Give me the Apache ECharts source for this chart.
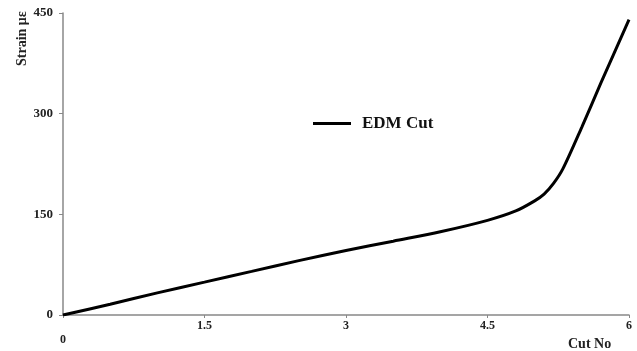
<!DOCTYPE html>
<html><head><meta charset="utf-8">
<script src="https://cdn.jsdelivr.net/npm/echarts@6/dist/echarts.min.js"></script>
<style>html,body{margin:0;padding:0;background:#fff}#c{width:637px;height:351px}</style>
</head><body><div id="c"></div>
<script>
var seriesName = 'EDM Cut';
var cutNo = [0, 0.5, 1, 1.5, 2, 2.5, 3, 3.5, 4, 4.5, 4.8, 5.0, 5.1, 5.2, 5.3, 5.5, 5.7, 6.0];
var strain = [0, 16, 33, 49, 65, 81, 96, 110, 124, 141, 155, 170, 180, 196, 218, 280, 345, 440];
var xTicks = [0, 1.5, 3, 4.5, 6];
var yTicks = [0, 150, 300, 450];

var font = 'Liberation Serif';
var chart = echarts.init(document.getElementById('c'), null, {renderer: 'canvas'});
chart.setOption({
  animation: false,
  backgroundColor: '#fff',
  grid: {left: 63, right: 8, top: 13, bottom: 36},
  legend: {
    data: [seriesName], left: 308, top: 110, icon: 'rect', itemWidth: 38, itemHeight: 3,
    textStyle: {fontFamily: font, fontWeight: 'bold', fontSize: 17, color: '#111', padding: [0, 0, 0, 6]}
  },
  xAxis: {
    type: 'value', min: 0, max: 6, interval: 1.5,
    axisLine: {lineStyle: {color: '#888', width: 1.5}},
    axisTick: {show: true, length: 3, lineStyle: {color: '#888'}},
    splitLine: {show: false},
    axisLabel: {
      margin: 5, fontFamily: font, fontWeight: 'bold', fontSize: 12, color: '#222',
      formatter: function (v) { return v === 0 ? '{z|0}' : String(v); },
      rich: {z: {fontFamily: font, fontWeight: 'bold', fontSize: 12, color: '#222', padding: [14, 0, 0, 0]}}
    }
  },
  yAxis: {
    type: 'value', min: 0, max: 450, interval: 150,
    axisLine: {show: true, lineStyle: {color: '#888', width: 1.5}},
    axisTick: {show: true, length: 4, lineStyle: {color: '#888'}},
    splitLine: {show: false},
    axisLabel: {margin: 10, fontFamily: font, fontWeight: 'bold', fontSize: 13, color: '#222'}
  },
  graphic: [
    {type: 'text', x: 29, y: 66, rotation: Math.PI / 2,
     style: {text: 'Strain με', fontFamily: font, fontWeight: 'bold', fontSize: 14, fill: '#222',
             align: 'left', verticalAlign: 'bottom'}},
    {type: 'text', left: 568, top: 337,
     style: {text: 'Cut No', fontFamily: font, fontWeight: 'bold', fontSize: 14, fill: '#222'}}
  ],
  series: [{
    name: seriesName, type: 'line', smooth: 0.3, showSymbol: false, symbol: 'none',
    lineStyle: {color: '#000', width: 3},
    itemStyle: {color: '#000'},
    data: cutNo.map(function (x, i) { return [x, strain[i]]; })
  }]
});
</script></body></html>
